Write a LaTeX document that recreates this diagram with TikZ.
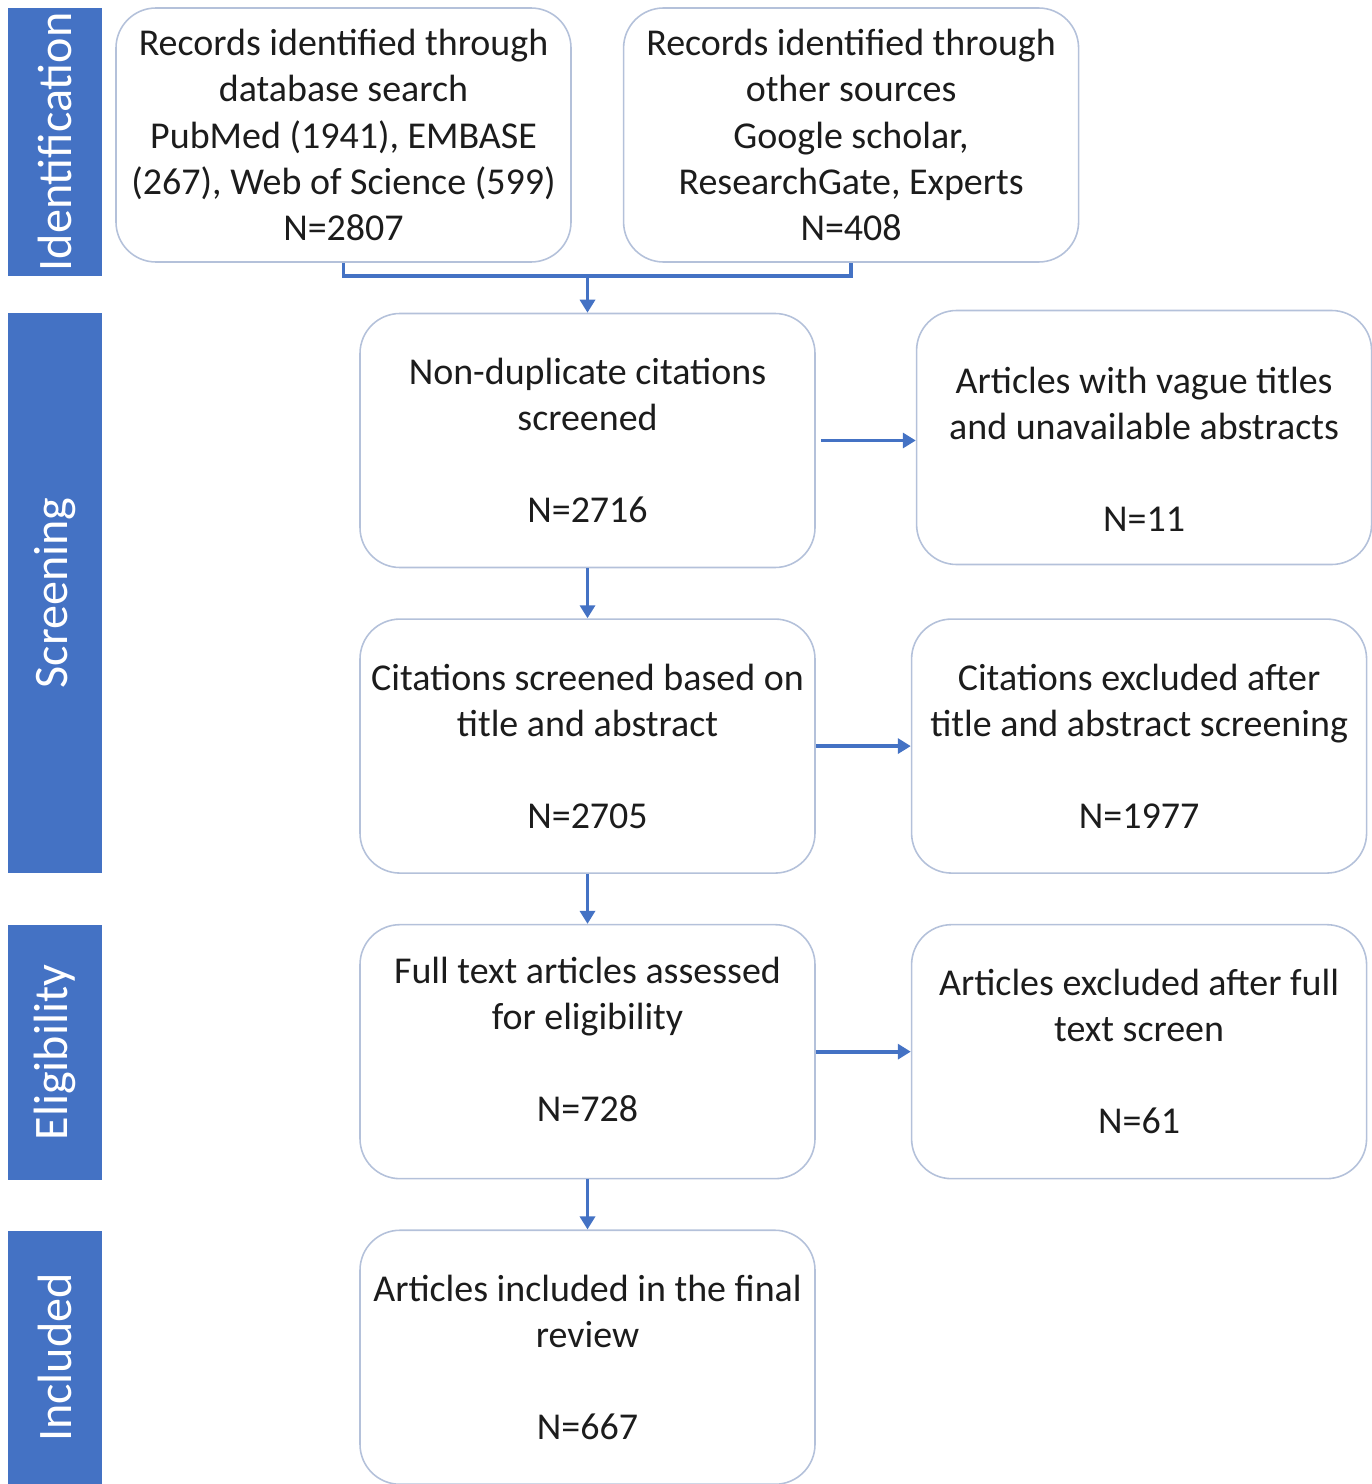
\documentclass[tikz,border=0pt]{standalone}
\usepackage{fontspec}
\setmainfont{Carlito}
\usetikzlibrary{positioning,arrows.meta,calc}
\definecolor{phaseblue}{HTML}{4472C4}
\definecolor{boxline}{HTML}{B4C1DA}
\definecolor{inktext}{HTML}{1C1C1C}
\tikzset{
  phase/.style={rotate=90, fill=phaseblue, text=white, inner sep=0pt,
    minimum height=0.94cm, font=\fontsize{13.7}{15}\selectfont},
  record/.style={draw=boxline, line width=0.45pt, rounded corners=0.4cm,
    minimum width=4.55cm, minimum height=2.54cm, inner sep=0pt, align=center,
    text=inktext, font=\fontsize{10.8}{13.1}\selectfont},
  flow/.style={draw=phaseblue, line width=1.1pt},
  flowarrow/.style={flow, -{Triangle[length=1.3mm,width=1.5mm]}}
}
\begin{document}
\begin{tikzpicture}[node distance=0.5cm and 0.95cm]
  \useasboundingbox (0,0) rectangle (13.71,-14.84);
  % phase bars on the left
  \node[phase, minimum width=2.68cm] (ident) at (0.55,-1.42) {Identification};
  \node[phase, minimum width=5.60cm] (screen) at (0.55,-5.93) {Screening};
  \node[phase, minimum width=2.55cm] (elig) at (0.55,-10.525) {Eligibility};
  \node[phase, minimum width=2.53cm] (incl) at (0.55,-13.575) {Included};

  % identification
  \node[record] (dbsearch) at (3.435,-1.35) {Records identified through\\database search\\PubMed (1941), EMBASE\\(267), Web of Science (599)\\N=2807};
  \node[record, right=0.51cm of dbsearch] (othersrc) {Records identified through\\other sources\\Google scholar,\\ResearchGate, Experts\\N=408};

  % main column
  \node[record] (nondup) at (5.875,-4.405) {Non-duplicate citations\\screened\\[13.1pt]N=2716};
  \node[record, below=of nondup] (titleabs) {Citations screened based on\\title and abstract\\[13.1pt]N=2705};
  \node[record, below=of titleabs] (fulltext) {Full text articles assessed\\for eligibility\\[13.1pt]N=728\\[-6pt]};
  \node[record, below=of fulltext] (included) {Articles included in the final\\review\\[13.1pt]N=667};

  % excluded column
  \node[record, right=1cm of nondup, yshift=0.03cm] (vague) {\rule{0pt}{14pt}Articles with vague titles\\and unavailable abstracts\\[13.1pt]N=11};
  \node[record, right=of titleabs] (exclta) {Citations excluded after\\title and abstract screening\\[13.1pt]N=1977};
  \node[record, right=of fulltext] (exclft) {Articles excluded after full\\text screen\\[13.1pt]N=61};

  % connectors
  \coordinate (join) at ($(dbsearch.south)+(0,-0.13)$);
  \draw[flow] (dbsearch.south) -- (join) -| (othersrc.south);
  \draw[flowarrow] (nondup.north |- join) -- (nondup.north);
  \draw[flowarrow] (nondup) -- (titleabs);
  \draw[flowarrow] (titleabs) -- (fulltext);
  \draw[flowarrow] (fulltext) -- (included);
  \draw[flowarrow, shorten <=0.05cm] (nondup.east) -- (vague.west |- nondup.east);
  \draw[flowarrow] (titleabs) -- (exclta);
  \draw[flowarrow] (fulltext) -- (exclft);
\end{tikzpicture}
\end{document}
